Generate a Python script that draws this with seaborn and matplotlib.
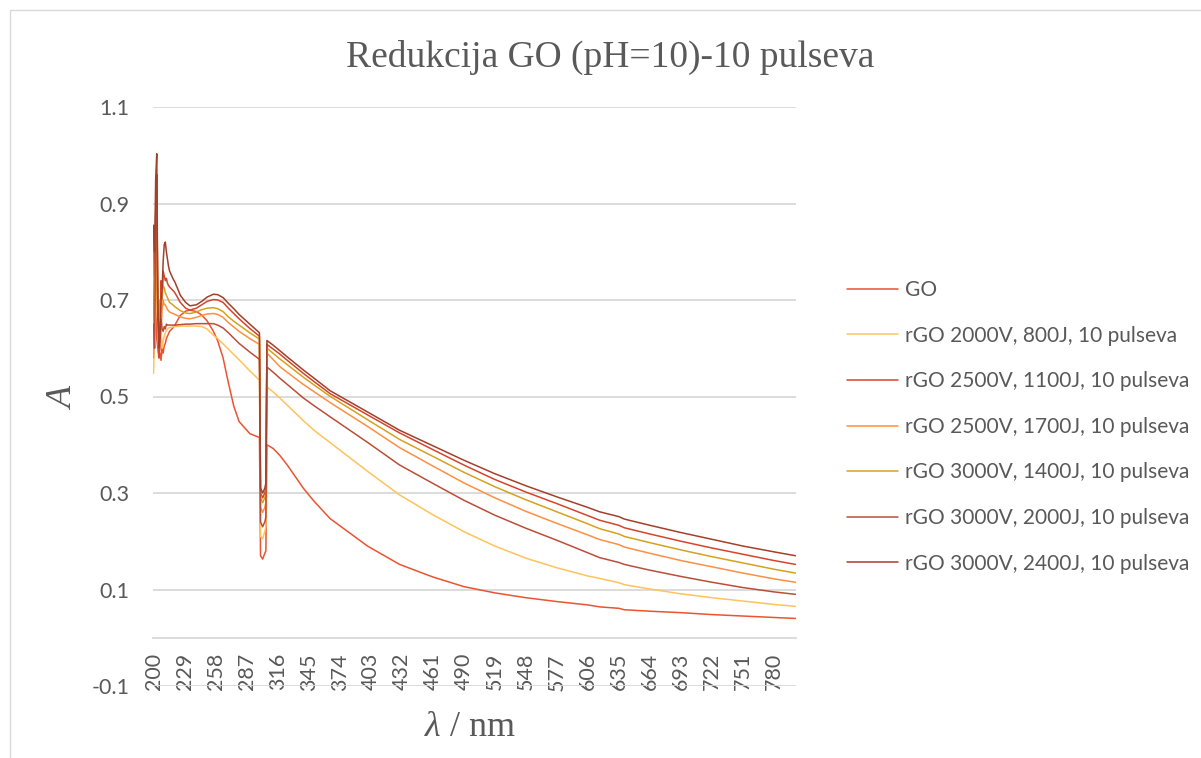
import numpy as np
import pandas as pd
import matplotlib
matplotlib.use("Agg")
import matplotlib.pyplot as plt
import seaborn as sns
from matplotlib.lines import Line2D
from matplotlib.patches import Rectangle

# ==========================================================
# DATA
# ==========================================================

wavelength = [200, 201, 202, 203, 204, 205, 206, 207, 208, 209, 210, 211, 212, 213, 214, 215,
              218, 220, 225, 230, 234, 240, 245, 250, 256, 260, 265, 270, 275, 280, 290, 299,
              300, 302, 304, 305, 306,
              312, 318, 325, 340, 350, 365, 400, 430, 461, 490, 519, 548, 577, 606, 617, 635, 640, 664, 693,
              722, 751, 780, 800]

go = [0.62, 0.85, 0.70, 0.62, 0.60, 0.58, 0.59, 0.575, 0.60, 0.59, 0.605, 0.61, 0.62, 0.625, 0.63, 0.635,
      0.642, 0.648, 0.668, 0.677, 0.679, 0.676, 0.669, 0.657, 0.635, 0.615, 0.58, 0.528, 0.48, 0.448, 0.423, 0.415,
      0.17, 0.163, 0.175, 0.18, 0.40,
      0.392, 0.378, 0.358, 0.31, 0.283, 0.247, 0.19, 0.152, 0.126, 0.106, 0.093, 0.083, 0.075, 0.068, 0.064, 0.061,
      0.058, 0.055, 0.052, 0.048, 0.045, 0.042, 0.040]

rgo_800 = [0.548, 0.62, 0.68, 0.72, 0.64, 0.62, 0.66, 0.64, 0.60, 0.615, 0.625, 0.632, 0.637, 0.64, 0.642, 0.643,
           0.644, 0.645, 0.646, 0.646, 0.646, 0.646, 0.645, 0.64, 0.627, 0.62, 0.609, 0.598, 0.587, 0.576, 0.553, 0.534,
           0.21, 0.205, 0.22, 0.23, 0.52,
           0.509, 0.497, 0.482, 0.45, 0.43, 0.4045, 0.345, 0.296, 0.255, 0.22, 0.19, 0.165, 0.145, 0.128, 0.123, 0.114,
           0.11, 0.101, 0.091, 0.083, 0.076, 0.069, 0.065]

rgo_1100 = [0.85, 0.75, 0.88, 0.93, 0.68, 0.58, 0.60, 0.74, 0.70, 0.76, 0.75, 0.74, 0.745, 0.735, 0.73, 0.727,
            0.72, 0.715, 0.695, 0.683, 0.679, 0.683, 0.69, 0.697, 0.701, 0.70, 0.695, 0.683, 0.672, 0.661, 0.641, 0.625,
            0.30, 0.29, 0.30, 0.31, 0.608,
            0.598, 0.588, 0.575, 0.548, 0.531, 0.506, 0.462, 0.4245, 0.39, 0.358, 0.328, 0.302, 0.278, 0.253, 0.2435,
            0.233, 0.228, 0.215, 0.20, 0.186, 0.173, 0.16, 0.152]

rgo_1700 = [0.58, 0.68, 0.72, 0.82, 0.62, 0.60, 0.66, 0.63, 0.68, 0.70, 0.69, 0.69, 0.685, 0.68, 0.678, 0.675,
            0.672, 0.67, 0.665, 0.662, 0.661, 0.664, 0.668, 0.671, 0.672, 0.67, 0.664, 0.653, 0.644, 0.635, 0.62, 0.608,
            0.27, 0.26, 0.27, 0.28, 0.59,
            0.576, 0.562, 0.55, 0.525, 0.51, 0.4875, 0.438, 0.394, 0.356, 0.321, 0.29, 0.262, 0.237, 0.213, 0.2035,
            0.193, 0.188, 0.175, 0.16, 0.147, 0.134, 0.122, 0.115]

rgo_1400 = [0.60, 0.70, 0.78, 0.86, 0.65, 0.66, 0.70, 0.68, 0.72, 0.73, 0.725, 0.715, 0.71, 0.705, 0.70, 0.695,
            0.69, 0.686, 0.678, 0.673, 0.672, 0.675, 0.68, 0.683, 0.684, 0.682, 0.676, 0.665, 0.656, 0.648, 0.632, 0.619,
            0.29, 0.28, 0.29, 0.30, 0.60,
            0.589, 0.578, 0.566, 0.54, 0.524, 0.5005, 0.452, 0.411, 0.376, 0.343, 0.313, 0.286, 0.261, 0.236, 0.226,
            0.215, 0.21, 0.197, 0.182, 0.168, 0.155, 0.142, 0.134]

rgo_2000 = [0.65, 0.60, 0.85, 0.96, 0.66, 0.63, 0.65, 0.66, 0.64, 0.635, 0.645, 0.64, 0.65, 0.648, 0.648, 0.648,
            0.648, 0.648, 0.649, 0.65, 0.65, 0.651, 0.651, 0.651, 0.651, 0.648, 0.642, 0.632, 0.621, 0.61, 0.592, 0.577,
            0.24, 0.23, 0.24, 0.25, 0.561,
            0.55, 0.538, 0.525, 0.497, 0.481, 0.458, 0.405, 0.358, 0.32, 0.285, 0.254, 0.227, 0.202, 0.176, 0.166,
            0.156, 0.152, 0.14, 0.127, 0.115, 0.104, 0.095, 0.090]

rgo_2400 = [0.855, 0.80, 0.95, 1.003, 0.70, 0.60, 0.62, 0.70, 0.72, 0.78, 0.815, 0.82, 0.80, 0.785, 0.77, 0.76,
            0.745, 0.737, 0.71, 0.695, 0.688, 0.69, 0.697, 0.706, 0.712, 0.711, 0.705, 0.693, 0.682, 0.67, 0.65, 0.632,
            0.31, 0.30, 0.31, 0.32, 0.616,
            0.606, 0.595, 0.582, 0.555, 0.538, 0.512, 0.468, 0.430, 0.398, 0.368, 0.34, 0.315, 0.292, 0.27, 0.261,
            0.251, 0.246, 0.233, 0.218, 0.204, 0.19, 0.178, 0.170]

series_names = ["GO",
                "rGO 2000V, 800J, 10 pulseva",
                "rGO 2500V, 1100J, 10 pulseva",
                "rGO 2500V, 1700J, 10 pulseva",
                "rGO 3000V, 1400J, 10 pulseva",
                "rGO 3000V, 2000J, 10 pulseva",
                "rGO 3000V, 2400J, 10 pulseva"]
series_values = [go, rgo_800, rgo_1100, rgo_1700, rgo_1400, rgo_2000, rgo_2400]
series_colors = ["#EA5430", "#FFC35C", "#D5452B", "#FF8F42", "#D6A11C", "#BB4E38", "#A3402A"]

x_ticks = list(range(200, 781, 29))
y_ticks = [-0.1, 0.1, 0.3, 0.5, 0.7, 0.9, 1.1]

# long form table for seaborn
frames = []
for name, vals in zip(series_names, series_values):
    frames.append(pd.DataFrame({"wl": wavelength, "A": vals, "series": name}))
df = pd.concat(frames, ignore_index=True)

# ==========================================================
# PLOT
# ==========================================================

sns.set_style("white")
plt.rcParams["font.family"] = ["Lato", "DejaVu Sans"]
plt.rcParams["mathtext.fontset"] = "custom"
plt.rcParams["mathtext.rm"] = "Liberation Serif"
plt.rcParams["mathtext.it"] = "Liberation Serif:italic"

text_color = "#595959"
grid_color = "#D9D9D9"

fig = plt.figure(figsize=(12.01, 7.58), dpi=100)
ax = fig.add_axes([153 / 1201, 1 - 686 / 758, (796 - 153) / 1201, (686 - 107) / 758])

palette = dict(zip(series_names, series_colors))
sns.lineplot(data=df, x="wl", y="A", hue="series", palette=palette,
             hue_order=series_names, estimator=None, sort=False,
             linewidth=1.1, legend=False, ax=ax)

ax.set_xlim(199.5, 800.5)
ax.set_ylim(-0.1, 1.1)
ax.set_yticks(y_ticks)
ax.set_yticklabels([f"{v:.1f}" for v in y_ticks])
ax.set_xticks(x_ticks)
ax.set_xticklabels([str(t) for t in x_ticks])

ax.yaxis.grid(True, color=grid_color, linewidth=1.3)
ax.xaxis.grid(False)
for side in ["left", "right", "top"]:
    ax.spines[side].set_visible(False)
ax.spines["bottom"].set_position(("data", 0))
ax.spines["bottom"].set_color(grid_color)
ax.spines["bottom"].set_linewidth(1.3)

ax.tick_params(axis="x", length=0, pad=11, labelsize=15.5, labelcolor=text_color, labelrotation=90)
ax.tick_params(axis="y", length=0, pad=17, labelsize=15.5, labelcolor=text_color)
ax.set_xlabel("")
ax.set_ylabel("")

# titles and axis labels
fig.text(610 / 1201, 1 - 57 / 758, "Redukcija GO (pH=10)-10 pulseva",
         family="Liberation Serif", fontsize=27, color=text_color, ha="center", va="center")
fig.text(470 / 1201, 1 - 728 / 758, r"$\lambda$ / nm",
         family="Liberation Serif", fontsize=26, color=text_color, ha="center", va="center")
fig.text(64.5 / 1201, 1 - 398 / 758, "A", family="Liberation Serif", style="italic",
         fontsize=26, color=text_color, ha="center", va="center", rotation=90)

# legend
handles = [Line2D([0], [0], color=c, linewidth=1.1) for c in series_colors]
fig.legend(handles, series_names, loc="upper left", bbox_to_anchor=(847 / 1201, 1 - 280 / 758),
           frameon=False, fontsize=15, labelcolor=text_color, handlelength=2.45,
           handletextpad=0.34, labelspacing=1.23, borderpad=0, borderaxespad=0)

# chart area border
fig.patches.append(Rectangle((10 / 1201, -0.01), 1.2, 1 - 10 / 758 + 0.01, transform=fig.transFigure,
                             fill=False, edgecolor=grid_color, linewidth=1))

fig.savefig("out.png", dpi=100)
